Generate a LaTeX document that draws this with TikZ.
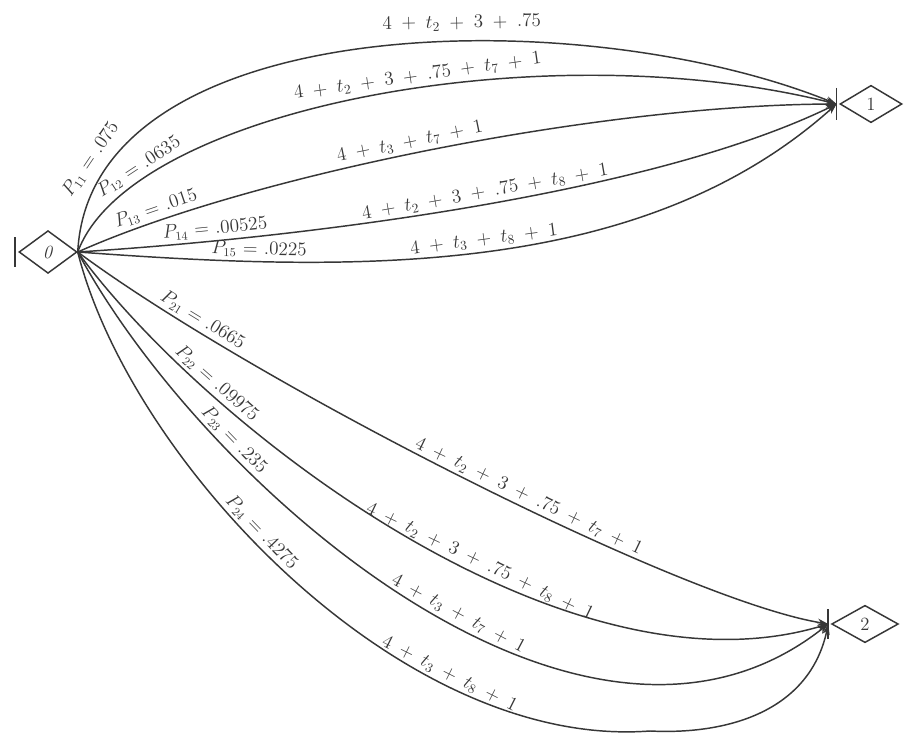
\documentclass[tikz,border=0pt]{standalone}
\usetikzlibrary{shapes.geometric,arrows.meta}
\definecolor{ink}{RGB}{55,55,55}
\newcommand\widemath{\medmuskip=9mu\relax\thickmuskip=7mu\relax}
\newcommand\pmath{\thickmuskip=6mu\relax}
\begin{document}
\begin{tikzpicture}[x=0.75pt,y=-0.75pt,
  state/.style={diamond, draw=ink, line width=1.1pt, inner sep=0pt,
    font=\fontsize{14}{16}\selectfont, text=ink},
  conn/.style={draw=ink, line width=1.1pt, -{Stealth[length=8pt,width=5.5pt]}},
  barline/.style={draw=ink, line width=1.2pt},
  lbl/.style={font=\fontsize{14}{16}\selectfont\widemath, text=ink, inner sep=1pt, sloped, above=1.5pt},
  plbl/.style={font=\fontsize{13.5}{16}\selectfont\pmath, text=ink, inner sep=1pt, sloped, above=1.5pt}]
\useasboundingbox (0,0) rectangle (904,734);
\fill[white] (0,0) rectangle (904,734);

% states
\node[state, minimum width=43.5pt, minimum height=32pt] (n0) at (48,252) {\textit{0}};
\node[state, minimum width=46.5pt, minimum height=28pt] (n1) at (871,104) {1};
\node[state, minimum width=50pt, minimum height=28pt] (n2) at (865,624) {2};

% bars
\coordinate (b0) at ([xshift=-2.5pt]n0.west);
\coordinate (t1) at ([xshift=-2pt]n1.west);
\coordinate (t2) at ([xshift=-2pt]n2.west);
\draw[barline] ([yshift=11pt]b0) -- ([yshift=-11pt]b0);
\draw[barline] ([yshift=12pt]t1) -- ([yshift=-12pt]t1);
\draw[barline] ([yshift=11pt]t2) -- ([yshift=-11pt]t2);

\coordinate (s) at (n0.east);

% edges to node 1
\draw[conn] (s) .. controls (90,10) and (580,0) .. (t1)
  node[plbl, pos=0.13, above=4pt] (p11) {$P_{11} = .075$}
  node[lbl, pos=0.6, above=5pt] (e11) {$4 + t_2 + 3 + .75$};
\draw[conn] (s) .. controls (130,110) and (540,30) .. (t1)
  node[plbl, pos=0.195] (p12) {$P_{12} = .0635$}
  node[lbl, pos=0.56] (e12) {$4 + t_2 + 3 + .75 + t_7 + 1$};
\draw[conn] (s) .. controls (250,175) and (600,105) .. (t1)
  node[plbl, pos=0.14] (p13) {$P_{13} = .015$}
  node[lbl, pos=0.475] (e13) {$4 + t_3 + t_7 + 1$};
\draw[conn] (s) .. controls (300,238) and (650,195) .. (t1)
  node[plbl, pos=0.19] (p14) {$P_{14} = .00525$}
  node[lbl, pos=0.52] (e14) {$4 + t_2 + 3 + .75 + t_8 + 1$};
\draw[conn] (s) .. controls (350,272) and (640,280) .. (t1)
  node[plbl, pos=0.22] (p15) {$P_{15} = .0225$}
  node[lbl, pos=0.5] (e15) {$4 + t_3 + t_8 + 1$};

% edges to node 2
\draw[conn] (s) .. controls (250,380) and (680,600) .. (t2)
  node[plbl, pos=0.185] (p21) {$P_{21} = .0665$}
  node[lbl, pos=0.57] (e21) {$4 + t_2 + 3 + .75 + t_7 + 1$};
\draw[conn] (s) .. controls (200,420) and (560,705) .. (t2)
  node[plbl, pos=0.25] (p22) {$P_{22} = .09975$}
  node[lbl, pos=0.59] (e22) {$4 + t_2 + 3 + .75 + t_8 + 1$};
\draw[conn] (s) .. controls (200,480) and (580,820) .. (t2)
  node[plbl, pos=0.27] (p23) {$P_{23} = .235$}
  node[lbl, pos=0.555] (e23) {$4 + t_3 + t_7 + 1$};
\coordinate (m9) at (650,731);
\draw[conn] (s) .. controls (130,460) and (400,750) .. (m9)
  node[plbl, pos=0.44] (p24) {$P_{24} = .4275$}
  node[lbl, pos=0.725] (e24) {$4 + t_3 + t_8 + 1$}
   .. controls (730,735) and (810,710) .. (t2);
\end{tikzpicture}
\end{document}
